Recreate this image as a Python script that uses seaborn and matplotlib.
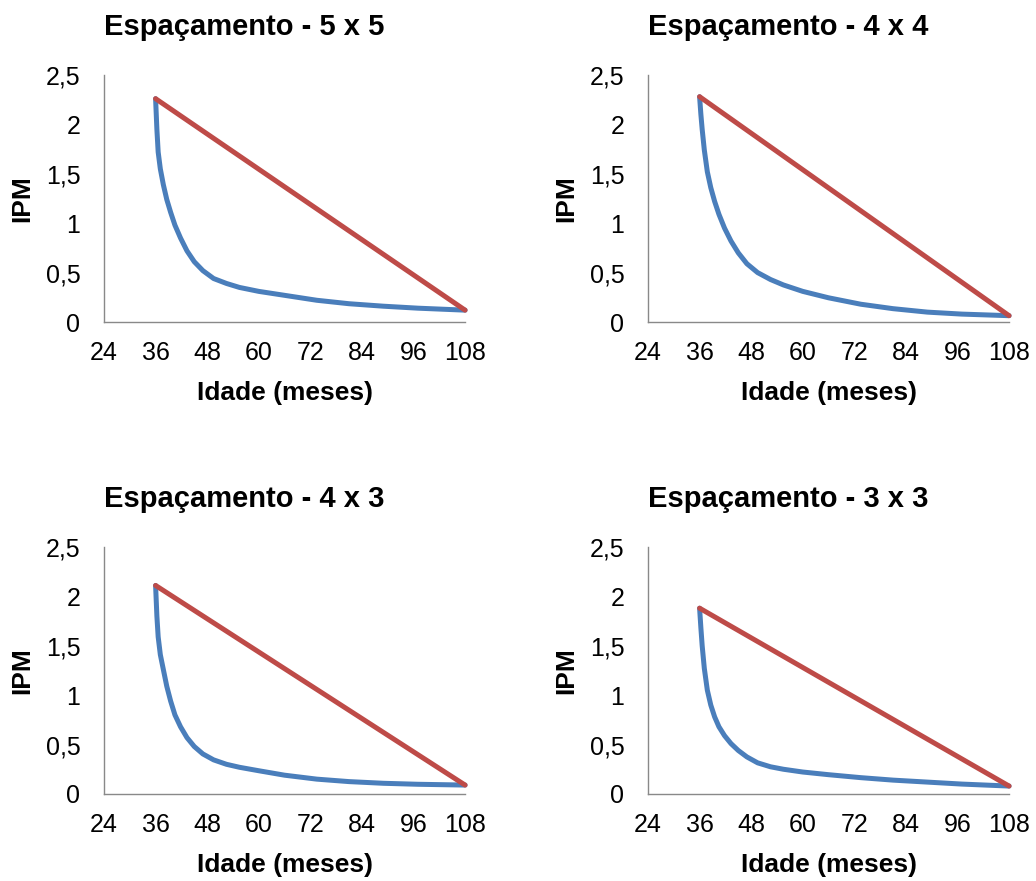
"""
IPM curves by planting spacing (2x2 panel figure)
"""

import numpy as np
import pandas as pd
import matplotlib
matplotlib.use("Agg")
import matplotlib.pyplot as plt
import seaborn as sns


ages = [36, 36.3, 36.6, 37.1, 37.8, 38.6, 39.5, 40.5, 41.8, 43.3, 45,
        47, 49.5, 52.5, 55.5, 60, 66, 73.5, 81, 89, 97, 108]

# Blue curve (IPM) per spacing
ipm_5x5 = [2.26, 1.95, 1.72, 1.55, 1.39, 1.24, 1.11, 0.98, 0.85, 0.72, 0.61,
           0.52, 0.44, 0.39, 0.35, 0.31, 0.27, 0.22, 0.185, 0.16, 0.14, 0.12]
ipm_4x4 = [2.28, 2.10, 1.95, 1.74, 1.52, 1.36, 1.22, 1.09, 0.95, 0.82, 0.70,
           0.59, 0.50, 0.43, 0.375, 0.31, 0.245, 0.18, 0.135, 0.10, 0.08, 0.064]
ipm_4x3 = [2.11, 1.80, 1.59, 1.41, 1.26, 1.09, 0.94, 0.80, 0.68, 0.57, 0.48,
           0.405, 0.345, 0.30, 0.27, 0.235, 0.19, 0.15, 0.125, 0.108, 0.098, 0.09]
ipm_3x3 = [1.88, 1.68, 1.50, 1.27, 1.05, 0.90, 0.78, 0.68, 0.59, 0.51, 0.44,
           0.375, 0.315, 0.275, 0.25, 0.222, 0.195, 0.165, 0.14, 0.12, 0.10, 0.08]

# Red straight line (start / end)
line_ages = [36, 108]
line_5x5 = [2.26, 0.12]
line_4x4 = [2.28, 0.064]
line_4x3 = [2.11, 0.09]
line_3x3 = [1.88, 0.08]

titles = ["Espaçamento - 5 x 5", "Espaçamento - 4 x 4",
          "Espaçamento - 4 x 3", "Espaçamento - 3 x 3"]

x_ticks = [24, 36, 48, 60, 72, 84, 96, 108]
y_ticks = [0, 0.5, 1, 1.5, 2, 2.5]
y_ticklabels = ["0", "0,5", "1", "1,5", "2", "2,5"]

BLUE = "#4A7EBB"
RED = "#BE4B48"
AXIS_GRAY = "#898989"


def draw_panel(ax, title, curve, line):
    """Draw one spacing panel"""
    df_curve = pd.DataFrame({"idade": ages, "ipm": curve})
    df_line = pd.DataFrame({"idade": line_ages, "ipm": line})

    sns.lineplot(data=df_curve, x="idade", y="ipm", ax=ax, color=BLUE,
                 linewidth=3.6, estimator=None, sort=False, clip_on=False,
                 solid_capstyle="round", solid_joinstyle="round")
    sns.lineplot(data=df_line, x="idade", y="ipm", ax=ax, color=RED,
                 linewidth=3.6, estimator=None, sort=False, clip_on=False,
                 solid_capstyle="round")

    ax.set_xlim(24, 108)
    ax.set_ylim(0, 2.5)
    ax.set_xticks(x_ticks)
    ax.set_yticks(y_ticks)
    ax.set_yticklabels(y_ticklabels)
    ax.tick_params(axis="both", length=0, labelsize=18, labelcolor="black")
    ax.tick_params(axis="x", pad=14)
    ax.tick_params(axis="y", pad=17)

    for side in ["top", "right"]:
        ax.spines[side].set_visible(False)
    for side in ["left", "bottom"]:
        ax.spines[side].set_color(AXIS_GRAY)
        ax.spines[side].set_linewidth(1.0)

    ax.set_xlabel("")
    ax.set_ylabel("")
    ax.text(0.387, 1.162, title, transform=ax.transAxes, ha="center",
            va="baseline", fontsize=21, fontweight="bold", color="black")
    ax.text(0.5, -0.287, "Idade (meses)", transform=ax.transAxes,
            ha="center", va="center", fontsize=19, fontweight="bold",
            color="black")
    ax.text(-0.227, 0.5, "IPM", transform=ax.transAxes, rotation=90,
            ha="center", va="center", fontsize=19, fontweight="bold",
            color="black")


def main():
    sns.set_style("white")
    plt.rcParams["font.family"] = ["Liberation Sans", "DejaVu Sans"]

    fig = plt.figure(figsize=(10.36, 8.81), dpi=100)

    w, h = 0.3485, 0.2804
    positions = [
        (0.1004, 0.6345),
        (0.6255, 0.6345),
        (0.1004, 0.0988),
        (0.6255, 0.0988),
    ]
    curves = [ipm_5x5, ipm_4x4, ipm_4x3, ipm_3x3]
    lines = [line_5x5, line_4x4, line_4x3, line_3x3]

    for (left, bottom), title, curve, line in zip(positions, titles, curves, lines):
        ax = fig.add_axes([left, bottom, w, h])
        draw_panel(ax, title, curve, line)

    fig.savefig("out.png", dpi=100)
    plt.close(fig)


if __name__ == "__main__":
    main()
